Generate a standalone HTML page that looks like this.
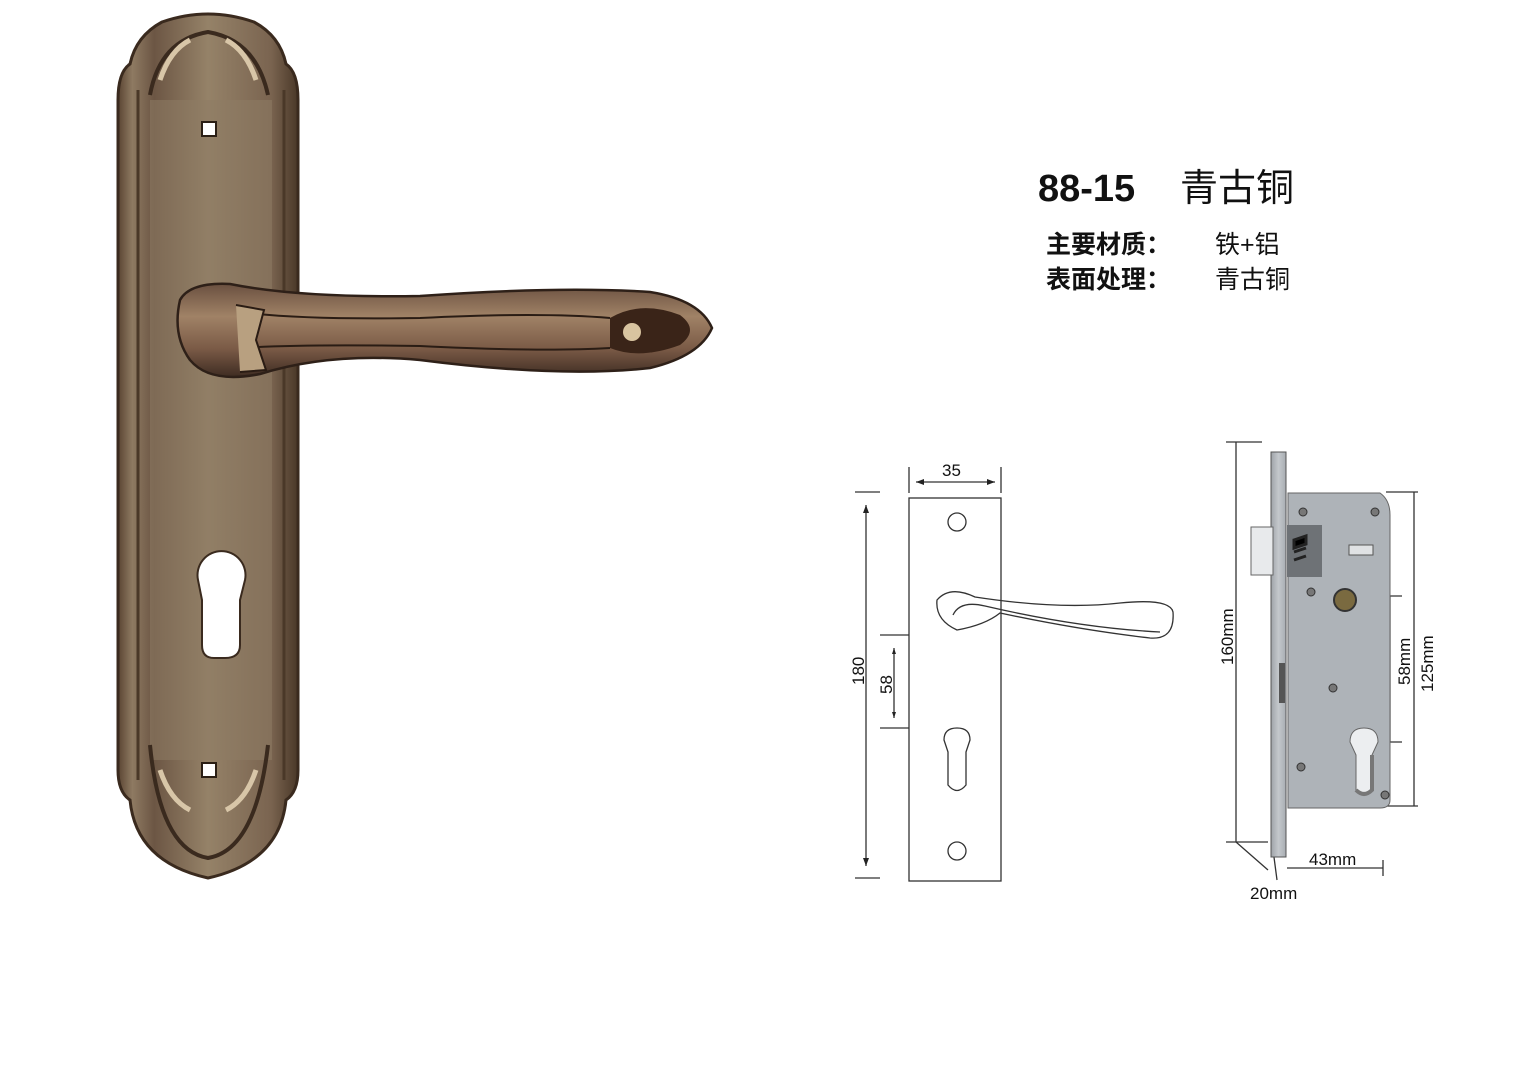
<!DOCTYPE html>
<html><head><meta charset="utf-8"><style>
html,body{margin:0;padding:0;background:#fff;}
svg{display:block}
</style></head><body>
<svg width="1528" height="1067" viewBox="0 0 1528 1067" xmlns="http://www.w3.org/2000/svg">
<defs>
<linearGradient id="pl" x1="0" x2="1" y1="0" y2="0">
<stop offset="0" stop-color="#5a4432"/><stop offset="0.08" stop-color="#8e7a62"/><stop offset="0.2" stop-color="#6c5644"/><stop offset="0.5" stop-color="#958268"/><stop offset="0.85" stop-color="#7a6450"/><stop offset="1" stop-color="#4a3828"/>
</linearGradient>
<linearGradient id="hd" x1="0" x2="0" y1="0" y2="1">
<stop offset="0" stop-color="#6a5040"/><stop offset="0.35" stop-color="#a08266"/><stop offset="0.7" stop-color="#7a5a46"/><stop offset="1" stop-color="#3e2c22"/>
</linearGradient>
<linearGradient id="ml" x1="0" x2="1"><stop offset="0" stop-color="#9ea3a8"/><stop offset="0.5" stop-color="#c4c8cc"/><stop offset="1" stop-color="#a8adb2"/></linearGradient>
</defs>
<rect width="1528" height="1067" fill="#fff"/>

<!-- bronze plate -->
<path d="M118,100 Q118,72 130,64 Q136,36 162,22 Q208,6 254,22 Q280,36 286,64 Q298,72 298,100 L298,770 Q298,792 286,800 Q280,862 208,878 Q136,862 130,800 Q118,792 118,770 Z" fill="url(#pl)" stroke="#3a2a1e" stroke-width="3"/>
<rect x="150" y="100" width="122" height="660" fill="#8e7c64" opacity="0.55"/>
<line x1="138" y1="90" x2="138" y2="780" stroke="#4a3828" stroke-width="3"/>
<line x1="284" y1="90" x2="284" y2="780" stroke="#4a3828" stroke-width="3"/>
<path d="M150,95 Q160,40 208,32 Q256,40 268,95" fill="none" stroke="#3a2a1e" stroke-width="4"/>
<path d="M150,745 Q160,850 208,858 Q256,850 268,745" fill="none" stroke="#3a2a1e" stroke-width="4"/>
<path d="M160,80 q10,-30 30,-40 M256,80 q-10,-30 -30,-40 M160,770 q10,30 30,40 M256,770 q-10,30 -30,40" fill="none" stroke="#d8c6a8" stroke-width="5"/>
<rect x="202" y="122" width="14" height="14" fill="#fff" stroke="#2a1e14" stroke-width="2"/>
<rect x="202" y="763" width="14" height="14" fill="#fff" stroke="#2a1e14" stroke-width="2"/>
<path d="M198,580 A24,24 0 1 1 245,580 L240,600 L240,645 Q240,658 225,658 L214,658 Q202,658 202,645 L202,600 Z" fill="#fff" stroke="#3a2a1e" stroke-width="2"/>

<!-- lever -->
<path d="M180,300 Q190,282 230,284 Q300,298 420,296 Q560,286 650,292 Q700,300 712,328 Q700,356 650,368 Q560,378 420,360 Q330,352 260,374 Q210,384 190,360 Q172,335 180,300 Z" fill="url(#hd)" stroke="#2e2018" stroke-width="2.5"/>
<path d="M240,312 Q300,320 420,318 Q540,312 610,318 M240,348 Q300,344 420,346 Q540,352 610,348" fill="none" stroke="#2a1c14" stroke-width="2"/>
<path d="M236,305 L264,310 L256,340 L266,370 L240,372" fill="#b8a080" stroke="#2a1c14" stroke-width="2"/>
<path d="M610,318 Q640,300 680,315 Q700,330 680,345 Q640,360 610,348 Z" fill="#3a2418"/>
<circle cx="632" cy="332" r="9" fill="#d8c4a0"/>

<!-- titles -->
<g font-family="'Liberation Sans','Noto Sans CJK SC',sans-serif" fill="#111">
<text x="1038" y="201" font-size="38" font-weight="bold">88-15</text>
<text x="1180" y="201" font-size="38">青古铜</text>
<text x="1046" y="253" font-size="25" font-weight="bold">主要材质：</text>
<text x="1215" y="253" font-size="25">铁+铝</text>
<text x="1046" y="288" font-size="25" font-weight="bold">表面处理：</text>
<text x="1215" y="288" font-size="25">青古铜</text>
</g>

<!-- line drawing plate -->
<g fill="none" stroke="#333" stroke-width="1.3">
<rect x="909" y="498" width="92" height="383"/>
<circle cx="957" cy="522" r="9"/>
<circle cx="957" cy="851" r="9"/>
<path d="M944,740 Q944,728 957,728 Q970,728 970,740 L966,752 L966,785 Q957,796 948,785 L948,752 Z"/>
<line x1="909" y1="467" x2="909" y2="493"/><line x1="1001" y1="467" x2="1001" y2="493"/>
<line x1="916" y1="482" x2="995" y2="482"/>
<line x1="855" y1="492" x2="880" y2="492"/><line x1="855" y1="878" x2="880" y2="878"/>
<line x1="866" y1="505" x2="866" y2="866"/>
<line x1="880" y1="635" x2="909" y2="635"/><line x1="880" y1="728" x2="909" y2="728"/>
<line x1="894" y1="648" x2="894" y2="718"/>
<path d="M937,600 Q950,585 975,597 Q1060,610 1120,603 Q1170,598 1173,612 Q1175,640 1150,638 Q1080,630 1000,613 Q985,625 957,630 Q935,620 937,600 Z"/>
<path d="M953,615 Q960,600 985,606 Q1080,628 1160,632"/>
<!-- mortise dims -->
<line x1="1236" y1="442" x2="1236" y2="842"/><line x1="1226" y1="442" x2="1262" y2="442"/>
<line x1="1226" y1="842" x2="1268" y2="842" /><path d="M1236,842 L1268,870 M1272,842 L1277,880"/>
<line x1="1386" y1="492" x2="1418" y2="492"/><line x1="1386" y1="806" x2="1418" y2="806"/>
<line x1="1414" y1="492" x2="1414" y2="806"/>
<line x1="1364" y1="596" x2="1402" y2="596"/><line x1="1364" y1="742" x2="1402" y2="742"/>
<line x1="1390" y1="596" x2="1390" y2="742"/>
<line x1="1287" y1="868" x2="1383" y2="868"/><line x1="1383" y1="860" x2="1383" y2="876"/>
</g>
<g fill="#222"><path d="M916,482 l8,-3 v6 z M995,482 l-8,-3 v6z M866,505 l-3,8 h6z M866,866 l-3,-8 h6z M894,648 l-2,6 h4z M894,718 l-2,-6 h4z"/></g>

<!-- mortise body -->
<rect x="1271" y="452" width="15" height="405" fill="url(#ml)" stroke="#555"/>
<path d="M1288,493 L1380,493 Q1390,500 1390,515 L1390,800 Q1390,808 1380,808 L1288,808 Z" fill="#aeb3b8" stroke="#666"/>
<rect x="1251" y="527" width="22" height="48" fill="#e8eaec" stroke="#666"/>
<rect x="1287" y="525" width="35" height="52" fill="#6e7276"/>
<path d="M1294,540 l12,-4 l0,8 l-12,4 z M1294,552 l12,-4 M1294,560 l12,-4" stroke="#222" stroke-width="3"/>
<circle cx="1345" cy="600" r="11" fill="#7a6a40" stroke="#333" stroke-width="2"/>
<rect x="1349" y="545" width="24" height="10" fill="#e0e2e4" stroke="#555"/>
<path d="M1350,742 Q1350,728 1364,728 Q1378,728 1378,742 L1372,755 L1372,790 Q1364,798 1356,790 L1356,755 Z" fill="#eceef0" stroke="#666"/>
<path d="M1372,755 L1372,790 Q1364,798 1356,790" fill="none" stroke="#777" stroke-width="4"/>
<rect x="1279" y="663" width="6" height="40" fill="#555"/>
<g fill="#777" stroke="#333"><circle cx="1303" cy="512" r="4"/><circle cx="1375" cy="512" r="4"/><circle cx="1311" cy="592" r="4"/><circle cx="1333" cy="688" r="4"/><circle cx="1301" cy="767" r="4"/><circle cx="1385" cy="795" r="4"/></g>

<g font-family="'Liberation Sans',sans-serif" fill="#111" font-size="17">
<text x="942" y="476">35</text>
<text transform="translate(864,685) rotate(-90)" x="0" y="0">180</text>
<text transform="translate(892,694) rotate(-90)">58</text>
<text transform="translate(1233,665) rotate(-90)">160mm</text>
<text transform="translate(1410,685) rotate(-90)">58mm</text>
<text transform="translate(1433,692) rotate(-90)">125mm</text>
<text x="1309" y="865">43mm</text>
<text x="1250" y="899">20mm</text>
</g>
</svg>
</body></html>
